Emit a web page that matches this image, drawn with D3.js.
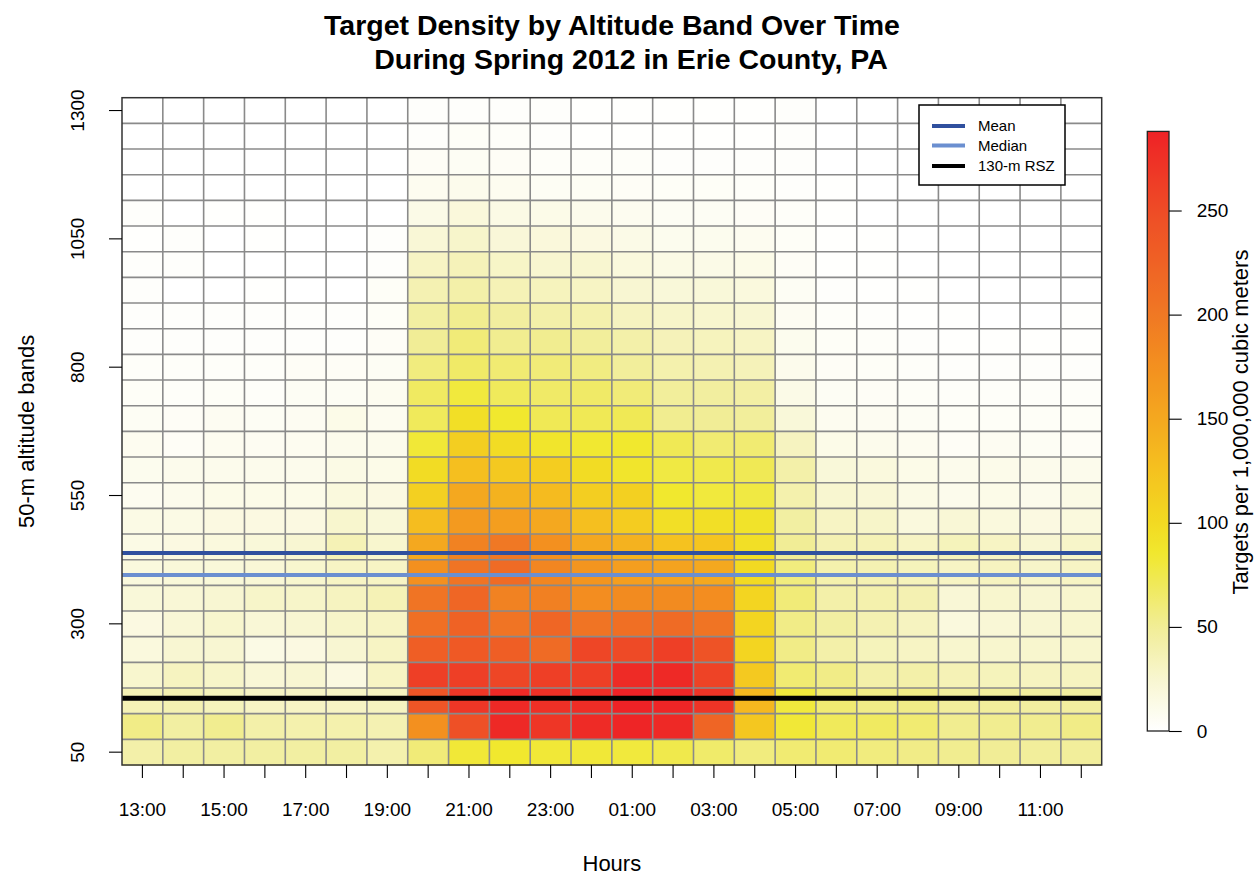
<!DOCTYPE html>
<html>
<head>
<meta charset="utf-8">
<script src="https://cdn.jsdelivr.net/npm/d3@7/dist/d3.min.js"></script>
<style>
  body { margin: 0; background: #fff; }
  text { font-family: "Liberation Sans", Arial, Helvetica, sans-serif; fill: #000; }
</style>
</head>
<body>
<svg id="chart" width="1260" height="877"></svg>
<script>
// Hour of day, starting at 13:00 and wrapping through midnight
const hours = ["13:00","14:00","15:00","16:00","17:00","18:00","19:00","20:00",
               "21:00","22:00","23:00","00:00","01:00","02:00","03:00","04:00",
               "05:00","06:00","07:00","08:00","09:00","10:00","11:00","12:00"];
const hourTickLabels = ["13:00","15:00","17:00","19:00","21:00","23:00",
                        "01:00","03:00","05:00","07:00","09:00","11:00"];

// 50-m altitude bands, labelled by the top of the band (highest first)
const bandTops = [1300,1250,1200,1150,1100,1050,1000,950,900,850,800,750,700,
                  650,600,550,500,450,400,350,300,250,200,150,100,50];
const altitudeTicks = [50, 300, 550, 800, 1050, 1300];

// Targets per 1,000,000 cubic metres; one row per band (same order as bandTops),
// one value per hour (same order as hours)
const density = [
  [0,0,0,0,0,0,0,   2,2,2,2,1,       1,1,1,1,2,       0,0,0,0,0,0,0],
  [0,0,0,0,0,0,0,   2,4,3,2,1,       1,1,1,1,2,       0,0,0,0,0,0,0],
  [0,0,0,0,0,0,0,   5,6,5,3,3,       3,2,2,2,2,       0,0,0,0,0,0,0],
  [0,0,0,0,0,0,0,   8,10,8,6,6,      5,4,4,3,2,       1,0,0,0,0,0,0],
  [2,0,1,1,0,0,0,   13,19,14,12,10,  8,6,6,5,3,       1,0,0,0,0,0,0],
  [1,2,0,1,0,0,2,   22,27,21,19,16,  13,9,9,8,4,      1,1,0,0,0,0,0],
  [2,2,0,0,0,0,2,   30,35,29,25,25,  18,14,13,12,5,   1,1,0,0,0,0,0],
  [2,0,0,1,0,0,4,   38,42,36,33,30,  24,20,20,18,6,   2,1,1,0,0,0,0],
  [2,2,2,2,2,2,4,   45,52,46,42,40,  32,28,26,24,7,   3,2,1,1,0,0,1],
  [2,2,2,2,2,2,5,   50,60,52,52,48,  42,35,33,30,9,   4,3,2,1,1,1,1],
  [3,3,3,3,5,5,6,   58,66,62,60,57,  48,40,38,35,10,  5,4,3,2,2,2,2],
  [4,3,4,3,6,6,8,   68,80,70,66,66,  60,48,46,44,13,  6,5,4,3,3,3,3],
  [6,5,7,6,7,12,8,  70,95,85,72,72,  72,52,50,48,20,  8,7,6,4,4,4,4],
  [8,5,8,7,8,10,10, 82,112,98,88,84, 85,72,62,62,32,  12,10,8,5,7,6,5],
  [9,10,10,10,10,14,12, 98,128,118,114,98, 88,78,75,72,42, 20,18,12,10,11,10,10],
  [8,10,12,12,12,18,16, 110,150,140,132,112, 110,85,80,78,40, 25,22,14,10,12,10,14],
  [14,14,16,16,16,26,20, 130,165,160,150,128, 115,95,95,90,45, 30,28,18,22,18,16,18],
  [14,16,18,20,24,36,26, 150,190,200,175,150, 140,125,122,95,50, 38,36,30,34,30,24,28],
  [18,20,20,22,26,30,30, 175,205,215,185,170, 160,155,150,100,58, 40,38,34,30,32,28,30],
  [20,22,24,28,28,32,36, 205,220,190,192,178, 180,180,178,105,60, 42,40,38,22,26,24,26],
  [16,22,26,22,24,28,30, 210,225,205,220,205, 210,215,205,105,55, 45,38,32,18,22,24,26],
  [18,24,24,14,16,24,30, 230,235,230,215,255, 252,262,242,105,55, 42,34,30,26,26,26,26],
  [26,32,28,22,24,16,30, 262,262,255,262,262, 280,282,258,118,62, 55,42,42,36,34,32,32],
  [36,38,34,30,30,30,32, 240,270,282,275,278, 288,285,272,135,80, 62,55,55,48,48,46,46],
  [55,45,52,42,40,40,38, 175,245,282,270,280, 285,282,222,120,82, 70,68,62,52,52,52,55],
  [42,45,45,45,45,45,40, 60,82,85,82,82,  80,75,65,58,62,  62,58,55,52,50,48,48]
];

const densityMax = 288;
const densityTicks = [0, 50, 100, 150, 200, 250];

// Reference altitudes in metres
const meanAltitude = 413;
const medianAltitude = 370;
const rszAltitude = 130;
const legendLabels = ["Mean", "Median", "130-m RSZ"];

// Colour ramp: white through yellow to red
const colourStops = [0, 25, 50, 75, 85, 100, 125, 150, 175, 200, 225, 250, 288];
const colourValues = ["#ffffff","#f8f6d0","#f1ed96","#f0e94c","#f1e82e","#f2da22",
                      "#f5c21f","#f4a81f","#f3901f","#f07824","#ef6225","#ee4c26","#ee2226"];

const svg = d3.select("#chart");

const plot = { left: 122, right: 1101.7, top: 97.7, bottom: 765 };

const x = d3.scaleBand().domain(hours).range([plot.left, plot.right]).padding(0);
const yBand = d3.scaleBand().domain(bandTops).range([plot.top, plot.bottom]).padding(0);
const yMetres = d3.scaleLinear().domain([0, 1300]).range([plot.bottom, plot.top]);
const colour = d3.scaleLinear().domain(colourStops).range(colourValues)
  .interpolate(d3.interpolateRgb).clamp(true);

// Heat map cells
const cells = [];
density.forEach((row, r) => row.forEach((v, c) => cells.push({ band: bandTops[r], hour: hours[c], value: v })));
svg.append("g")
  .selectAll("rect")
  .data(cells)
  .join("rect")
  .attr("x", d => x(d.hour))
  .attr("y", d => yBand(d.band))
  .attr("width", x.bandwidth() + 0.5)
  .attr("height", yBand.bandwidth() + 0.5)
  .attr("fill", d => colour(d.value))
  .attr("shape-rendering", "crispEdges");

// Cell grid
const grid = svg.append("g").attr("stroke", "#8a8a8a").attr("stroke-width", 1.6);
hours.slice(1).forEach(h => {
  grid.append("line").attr("x1", x(h)).attr("x2", x(h)).attr("y1", plot.top).attr("y2", plot.bottom);
});
bandTops.slice(1).forEach(b => {
  grid.append("line").attr("x1", plot.left).attr("x2", plot.right).attr("y1", yBand(b)).attr("y2", yBand(b));
});

// Reference lines
const refLines = [
  { value: meanAltitude, colour: "#30509e", width: 4 },
  { value: medianAltitude, colour: "#6b8fd0", width: 4 },
  { value: rszAltitude, colour: "#000000", width: 5 }
];
svg.append("g").selectAll("line").data(refLines).join("line")
  .attr("x1", plot.left).attr("x2", plot.right)
  .attr("y1", d => yMetres(d.value)).attr("y2", d => yMetres(d.value))
  .attr("stroke", d => d.colour).attr("stroke-width", d => d.width);

// Plot frame
svg.append("rect")
  .attr("x", plot.left).attr("y", plot.top)
  .attr("width", plot.right - plot.left).attr("height", plot.bottom - plot.top)
  .attr("fill", "none").attr("stroke", "#333").attr("stroke-width", 1.5);

// X axis: a tick for every hour, labels on alternate hours
const xAxis = svg.append("g")
  .attr("transform", `translate(0,${plot.bottom})`)
  .call(d3.axisBottom(x).tickSize(13).tickPadding(25)
    .tickFormat(d => hourTickLabels.includes(d) ? d : ""));
xAxis.select(".domain").remove();
xAxis.selectAll("line").attr("stroke", "#000").attr("stroke-width", 1.1);
xAxis.selectAll("text").attr("font-size", 19).attr("font-family", null);

// Y axis: band labels rotated parallel to the axis
const yAxis = svg.append("g")
  .attr("transform", `translate(${plot.left},0)`)
  .call(d3.axisLeft(yBand).tickValues(altitudeTicks).tickSize(13));
yAxis.select(".domain").remove();
yAxis.selectAll("line").attr("stroke", "#000").attr("stroke-width", 1.1);
yAxis.selectAll("text")
  .attr("x", null).attr("dy", "0.35em")
  .attr("transform", "translate(-44.5,0) rotate(-90)")
  .attr("text-anchor", "middle")
  .attr("font-size", 19).attr("font-family", null);

// Axis titles
svg.append("text").attr("x", (plot.left + plot.right) / 2).attr("y", 871)
  .attr("text-anchor", "middle").attr("font-size", 22).text("Hours");
svg.append("text").attr("transform", `translate(26,${(plot.top + plot.bottom) / 2}) rotate(-90)`)
  .attr("dy", "0.35em").attr("text-anchor", "middle").attr("font-size", 22)
  .text("50-m altitude bands");

// Title
svg.append("text").attr("x", 612).attr("y", 35).attr("text-anchor", "middle")
  .attr("font-size", 28.5).attr("font-weight", "bold")
  .text("Target Density by Altitude Band Over Time");
svg.append("text").attr("x", 631).attr("y", 69).attr("text-anchor", "middle")
  .attr("font-size", 28.5).attr("font-weight", "bold")
  .text("During Spring 2012 in Erie County, PA");

// Legend
const legend = svg.append("g");
legend.append("rect").attr("x", 919).attr("y", 105).attr("width", 146).attr("height", 80)
  .attr("fill", "#fff").attr("stroke", "#000").attr("stroke-width", 1.5);
const legendRowY = [126, 145.5, 166];
legendLabels.forEach((label, i) => {
  legend.append("line").attr("x1", 932).attr("x2", 965)
    .attr("y1", legendRowY[i]).attr("y2", legendRowY[i])
    .attr("stroke", refLines[i].colour).attr("stroke-width", 4);
  legend.append("text").attr("x", 978).attr("y", legendRowY[i]).attr("dy", "0.35em")
    .attr("font-size", 15).text(label);
});

// Colour bar
const bar = { x: 1147.3, width: 21.7, top: 131.4, bottom: 731 };
const barScale = d3.scaleLinear().domain([0, densityMax]).range([bar.bottom, bar.top]);
const grad = svg.append("defs").append("linearGradient")
  .attr("id", "densityGradient").attr("x1", 0).attr("y1", 1).attr("x2", 0).attr("y2", 0);
d3.range(0, 61).forEach(i => {
  const v = densityMax * i / 60;
  grad.append("stop").attr("offset", i / 60).attr("stop-color", colour(v));
});
svg.append("rect").attr("x", bar.x).attr("y", bar.top)
  .attr("width", bar.width).attr("height", bar.bottom - bar.top)
  .attr("fill", "url(#densityGradient)").attr("stroke", "#222").attr("stroke-width", 1.3);
const barAxis = svg.append("g")
  .attr("transform", `translate(${bar.x + bar.width},0)`)
  .call(d3.axisRight(barScale).tickValues(densityTicks).tickSize(12.7).tickPadding(15));
barAxis.select(".domain").remove();
barAxis.selectAll("line").attr("stroke", "#000").attr("stroke-width", 1.1);
barAxis.selectAll("text").attr("font-size", 19).attr("font-family", null);
svg.append("text").attr("transform", "translate(1240,422) rotate(-90)")
  .attr("dy", "0.35em").attr("text-anchor", "middle").attr("font-size", 22)
  .text("Targets per 1,000,000 cubic meters");
</script>
</body>
</html>
